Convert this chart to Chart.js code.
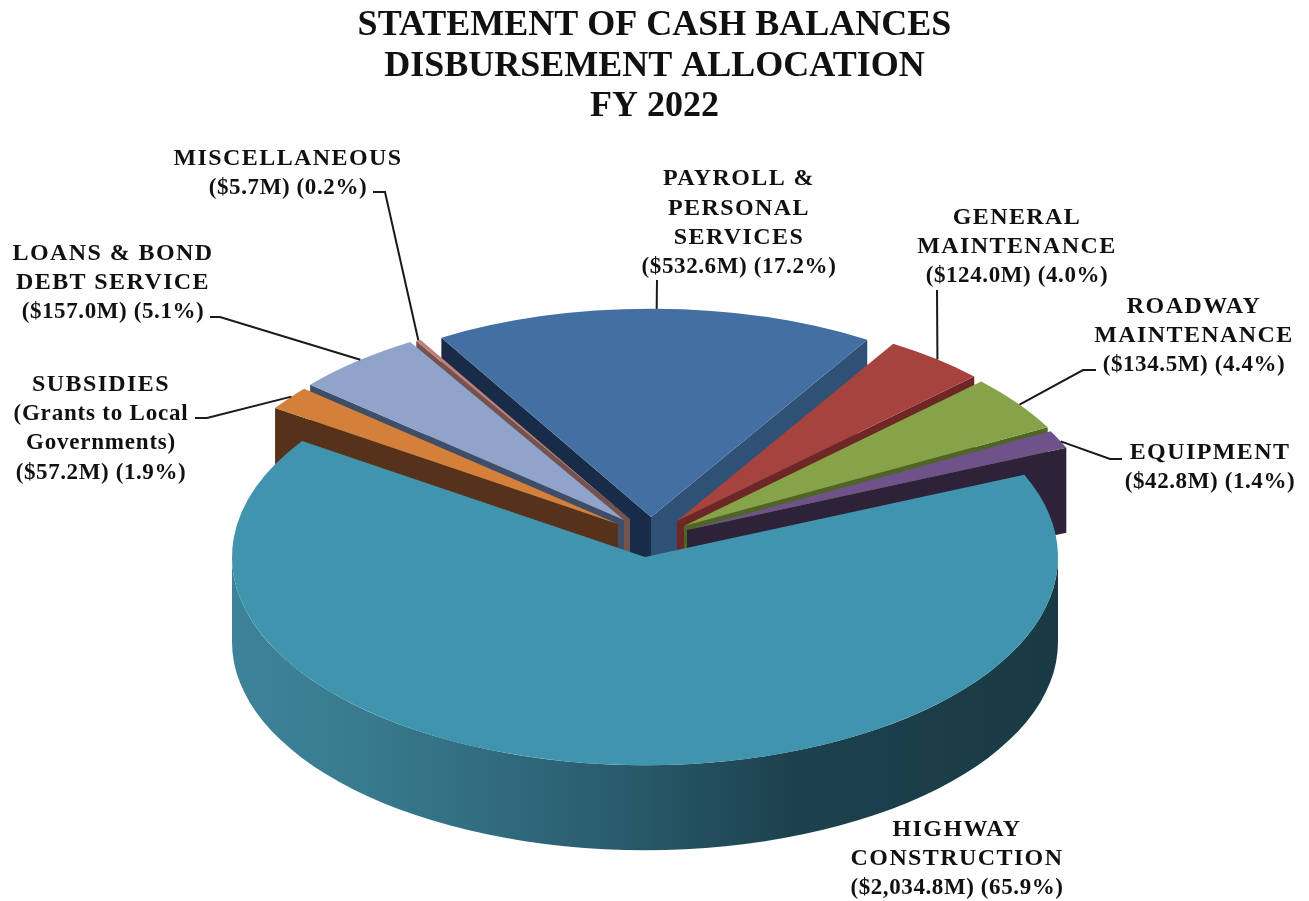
<!DOCTYPE html>
<html>
<head>
  <meta charset="utf-8">
  <title>Disbursement Allocation FY 2022</title>
  <script src="https://cdn.jsdelivr.net/npm/chart.js"></script>
  <style>
    body { margin: 0; background: #fff; }
    canvas { display: block; }
  </style>
</head>
<body>
  <canvas id="chart" width="1309" height="901"></canvas>

  <script>
    // Values ($ millions, percent), clockwise from the top slice
    const categories = [
      ["PAYROLL &", "PERSONAL", "SERVICES"],
      ["GENERAL", "MAINTENANCE"],
      ["ROADWAY", "MAINTENANCE"],
      ["EQUIPMENT"],
      ["HIGHWAY", "CONSTRUCTION"],
      ["SUBSIDIES", "(Grants to Local", "Governments)"],
      ["LOANS & BOND", "DEBT SERVICE"],
      ["MISCELLANEOUS"]
    ];
    const amounts = [532.6, 124.0, 134.5, 42.8, 2034.8, 57.2, 157.0, 5.7];
    const percents = [17.2, 4.0, 4.4, 1.4, 65.9, 1.9, 5.1, 0.2];
    const titleLines = ["STATEMENT OF CASH BALANCES", "DISBURSEMENT ALLOCATION", "FY 2022"];

    // Styles, one entry per slice
    const topColors = ["#446fa3", "#a6433f", "#87a34a", "#70528a", "#4094ae", "#d47f3a", "#8fa3cb", "#c27f7c"];
    const startWalls = ["#182c47", null, null, null, null, "#56321a", "#3e4e68", "#74534f"];
    const endWalls = ["#2f5175", "#6e2724", "#4f6526", "#2e2239", null, null, null, null];

    // How far each slice is pulled out of the pie on screen (dx, dy)
    const shifts = [[6, -40], [32, -36], [39, -31], [42, -27], [0, 0], [-27, -33], [-21, -37], [-15, -38]];
    const drawOrder = [0, 1, 2, 3, 7, 6, 5, 4];

    const pieX = 645, pieY = 557, squash = 0.504, depth = 85;

    // Label layout: centre x, first line y, leader start points, where on the rim it lands
    const labelBoxes = [
      { x: 739, y: 179, leader: [[657, 280]], at: 0.504 },
      { x: 1017, y: 217.5, leader: [[937, 290]], at: 0.52 },
      { x: 1194, y: 306.5, leader: [[1096, 370], [1083, 370]], at: 0.53 },
      { x: 1210, y: 452.5, leader: [[1122, 459], [1110, 459]], at: 0.62 },
      { x: 957, y: 829.5, leader: null },
      { x: 101, y: 384.5, leader: [[195, 418], [207, 418]], at: 0.58 },
      { x: 113, y: 253.5, leader: [[210, 317], [220, 317]], at: 0.535 },
      { x: 288, y: 158.5, leader: [[373, 192], [385, 192]], at: 0.5 }
    ];
    const lineStep = 29.5;

    function amountLine(i) {
      const money = amounts[i].toLocaleString("en-US", { minimumFractionDigits: 1 });
      return "($" + money + "M) (" + percents[i].toFixed(1) + "%)";
    }

    // Screen position of a point on a slice, polar around the arc's own centre
    function onSlice(i, angle, r, drop) {
      return [
        pieX + shifts[i][0] + r * Math.cos(angle),
        pieY + shifts[i][1] + r * Math.sin(angle) * squash + (drop || 0)
      ];
    }

    function fillFace(ctx, i, angle, r, color) {
      const a = onSlice(i, 0, 0), b = onSlice(i, angle, r);
      ctx.fillStyle = color;
      ctx.beginPath();
      ctx.moveTo(a[0], a[1]);
      ctx.lineTo(b[0], b[1]);
      ctx.lineTo(b[0], b[1] + depth);
      ctx.lineTo(a[0], a[1] + depth);
      ctx.closePath();
      ctx.fill();
    }

    function fillRim(ctx, i, arc) {
      const from = Math.max(arc.startAngle, 0);
      const to = Math.min(arc.endAngle, Math.PI);
      if (to <= from) return;
      const r = arc.outerRadius;
      const cx = pieX + shifts[i][0], cy = pieY + shifts[i][1];
      const grad = ctx.createLinearGradient(cx - r, 0, cx + r, 0);
      grad.addColorStop(0, "#3d8399");
      grad.addColorStop(0.14, "#397c90");
      grad.addColorStop(0.3, "#326d80");
      grad.addColorStop(0.48, "#285a6b");
      grad.addColorStop(0.68, "#1c414d");
      grad.addColorStop(1, "#193a45");
      ctx.fillStyle = grad;
      ctx.beginPath();
      ctx.ellipse(cx, cy, r, r * squash, 0, from, to);
      ctx.ellipse(cx, cy + depth, r, r * squash, 0, to, from, true);
      ctx.closePath();
      ctx.fill();
    }

    // Extrudes and squashes the library's own arcs into a tilted pie
    const pie3d = {
      id: "pie3d",
      beforeDatasetDraw(chart, args) {
        const ctx = chart.ctx;
        const arcs = args.meta.data;
        drawOrder.forEach(i => {
          const arc = arcs[i];
          if (startWalls[i]) fillFace(ctx, i, arc.startAngle, arc.outerRadius, startWalls[i]);
          if (endWalls[i]) fillFace(ctx, i, arc.endAngle, arc.outerRadius, endWalls[i]);
          fillRim(ctx, i, arc);

          ctx.save();
          ctx.translate(pieX + shifts[i][0], pieY + shifts[i][1]);
          ctx.scale(1, squash);
          ctx.translate(-arc.x, -arc.y);
          arc.draw(ctx);
          ctx.restore();
        });
        return false; // already drawn
      },
      afterDatasetsDraw(chart) {
        const ctx = chart.ctx;
        const arcs = chart.getDatasetMeta(0).data;
        ctx.save();

        // leader lines
        ctx.strokeStyle = "#1a1a1a";
        ctx.lineWidth = 2;
        labelBoxes.forEach((box, i) => {
          if (!box.leader) return;
          const arc = arcs[i];
          const end = onSlice(i, arc.startAngle + box.at * (arc.endAngle - arc.startAngle), arc.outerRadius);
          ctx.beginPath();
          box.leader.forEach((p, k) => k ? ctx.lineTo(p[0], p[1]) : ctx.moveTo(p[0], p[1]));
          ctx.lineTo(end[0], end[1]);
          ctx.stroke();
        });

        // labels: capitals run wider in the original than the mixed-case lines
        ctx.fillStyle = "#111";
        ctx.textAlign = "center";
        ctx.textBaseline = "middle";
        labelBoxes.forEach((box, i) => {
          const names = categories[i];
          names.forEach((line, k) => {
            const caps = line === line.toUpperCase();
            ctx.font = "bold " + (caps ? 24 : 23) + "px 'Liberation Serif'";
            ctx.letterSpacing = caps ? "1.4px" : "0.8px";
            ctx.fillText(line, box.x, box.y + k * lineStep);
          });
          ctx.font = "bold 23px 'Liberation Serif'";
          ctx.letterSpacing = "0.6px";
          ctx.fillText(amountLine(i), box.x, box.y + names.length * lineStep);
        });
        ctx.restore();
      }
    };

    new Chart(document.getElementById("chart"), {
      type: "pie",
      data: {
        labels: categories,
        datasets: [{
          data: amounts,
          backgroundColor: topColors,
          borderWidth: 0
        }]
      },
      options: {
        responsive: false,
        animation: false,
        rotation: -30.5,
        radius: 413,
        plugins: {
          legend: { display: false },
          tooltip: { enabled: false },
          title: {
            display: true,
            text: titleLines,
            color: "#111",
            padding: { top: 6, bottom: 0 },
            font: { family: "'Liberation Serif'", size: 36, weight: "bold", lineHeight: 1.12 }
          }
        }
      },
      plugins: [pie3d]
    });
  </script>
</body>
</html>
